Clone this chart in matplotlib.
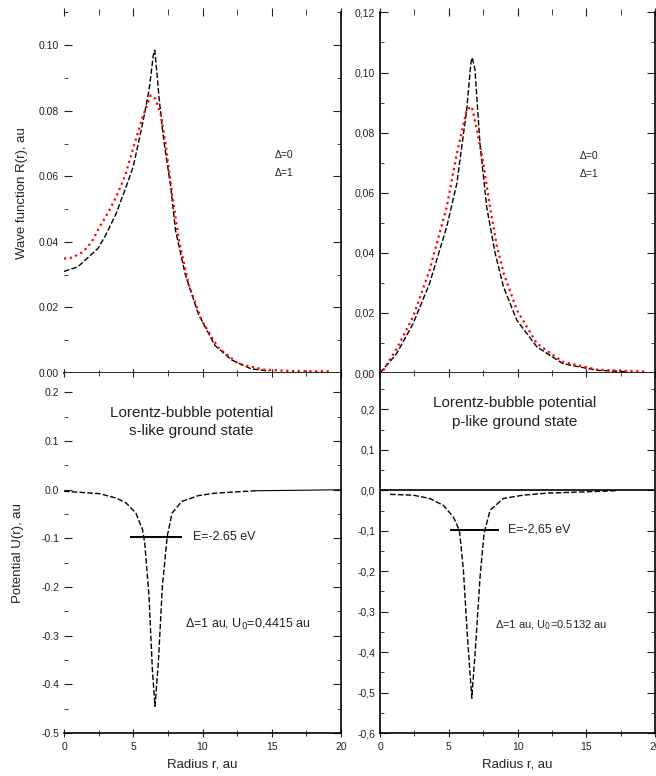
import numpy as np
import matplotlib
matplotlib.use("Agg")
import matplotlib.pyplot as plt
from matplotlib.ticker import MultipleLocator, FuncFormatter

plt.rcParams["font.family"] = ["Liberation Sans", "DejaVu Sans"]
plt.rcParams["text.color"] = "#222222"
plt.rcParams["axes.labelcolor"] = "#222222"
plt.rcParams["xtick.color"] = "#222222"
plt.rcParams["ytick.color"] = "#222222"

HARTREE_EV = 27.2114

# s-like ground state, radial wave function
r_s0 = [0.0, 1.0, 2.45, 3.0, 3.76, 4.5, 5.0, 5.67, 6.14, 6.45, 6.55, 6.7, 6.86,
        7.2, 7.7, 8.05, 8.76, 9.7, 10.9, 12.1, 13.5, 14.8]
R_s0 = [0.031, 0.0324, 0.038, 0.042, 0.0486, 0.057, 0.063, 0.076, 0.0863, 0.097,
        0.0985, 0.092, 0.084, 0.071, 0.057, 0.0435, 0.030, 0.018, 0.0084, 0.004,
        0.0013, 0.0006]
r_s1 = [0.0, 0.6, 1.38, 2.0, 2.57, 3.2, 3.76, 4.4, 4.95, 5.67, 6.26, 6.6, 6.98,
        7.33, 7.8, 8.3, 9.0, 9.95, 11.1, 12.6, 14.5, 16.5, 19.2]
R_s1 = [0.0349, 0.0352, 0.037, 0.040, 0.0446, 0.049, 0.0537, 0.060, 0.068, 0.078,
        0.0847, 0.0837, 0.079, 0.070, 0.0547, 0.0405, 0.027, 0.016, 0.0079, 0.0028,
        0.001, 0.0006, 0.0005]

# p-like ground state, radial wave function
r_p0 = [0.0, 1.2, 2.4, 3.6, 4.85, 5.58, 6.3, 6.6, 6.7, 6.9, 7.27, 7.76, 8.36,
        8.97, 9.94, 11.4, 13.3, 15.8, 18.0]
R_p0 = [0.0, 0.0064, 0.0164, 0.0298, 0.0487, 0.063, 0.0876, 0.103, 0.105, 0.101,
        0.076, 0.055, 0.040, 0.0287, 0.0176, 0.0087, 0.0031, 0.0009, 0.0004]
r_p1 = [0.24, 1.2, 2.4, 3.6, 4.85, 5.58, 6.3, 6.67, 7.0, 7.5, 8.0, 8.5, 9.0,
        9.94, 11.4, 13.3, 15.8, 19.2]
R_p1 = [0.0009, 0.008, 0.0187, 0.0342, 0.0553, 0.073, 0.0876, 0.0887, 0.082, 0.070,
        0.055, 0.042, 0.033, 0.021, 0.0098, 0.0037, 0.0011, 0.0005]

# Lorentz-bubble potentials
r_Us = [0.0, 2.57, 3.76, 4.48, 5.19, 5.67, 5.83, 6.14, 6.38, 6.57, 6.81, 7.1,
        7.45, 7.8, 8.5, 9.7, 10.9, 13.8, 20.0]
U_s = [-0.003, -0.008, -0.017, -0.027, -0.048, -0.082, -0.11, -0.22, -0.37, -0.445,
       -0.356, -0.199, -0.096, -0.048, -0.024, -0.012, -0.007, -0.002, 0.0]
r_Up = [0.73, 2.4, 3.6, 4.6, 5.33, 5.77, 6.06, 6.35, 6.67, 6.96, 7.27, 7.56, 8.0,
        8.97, 10.4, 12.1, 17.2]
U_p = [-0.01, -0.012, -0.02, -0.037, -0.066, -0.099, -0.197, -0.36, -0.514, -0.378,
       -0.214, -0.107, -0.049, -0.02, -0.012, -0.007, -0.001]

E_s_ev = -2.65
E_p_ev = -2.65
E_s_span = [4.83, 8.48]
E_p_span = [5.14, 8.6]

DASH = (0, (4, 1.6))
DOTS = (0, (1, 1.6))
TICK_FS = 7.5
LABEL_FS = 9.5
TITLE_FS = 11


def fmt(decimals, sep):
    def f(v, _):
        s = f"{v:.{decimals}f}"
        if s.startswith("-0") and float(s) == 0:
            s = s[1:]
        return s.replace(".", sep)
    return FuncFormatter(f)


def style(ax, left_spine=True):
    ax.spines["top"].set_visible(False)
    ax.spines["left"].set_visible(left_spine)
    ax.set_xlim(0, 20)
    ax.xaxis.set_major_locator(MultipleLocator(5))
    ax.xaxis.set_minor_locator(MultipleLocator(2.5))
    ax.tick_params(axis="x", which="both", direction="inout", top=True, labelsize=TICK_FS)
    ax.tick_params(axis="x", which="major", length=6)
    ax.tick_params(axis="x", which="minor", length=4)
    ax.tick_params(axis="y", which="both", direction="in", right=True, labelsize=TICK_FS)
    ax.tick_params(axis="y", which="major", length=6)
    ax.tick_params(axis="y", which="minor", length=3)
    for s in ax.spines.values():
        s.set_linewidth(1.2)


fig = plt.figure(figsize=(6.56, 7.76), dpi=100)
ax_ws = fig.add_axes([0.0976, 0.5193, 0.4222, 0.4647])
ax_wp = fig.add_axes([0.5793, 0.5193, 0.4195, 0.4647])
ax_us = fig.add_axes([0.0976, 0.0554, 0.4222, 0.4639])
ax_up = fig.add_axes([0.5793, 0.0554, 0.4195, 0.4639])

# wave functions
ax_ws.plot(r_s0, R_s0, color="black", lw=1.0, ls=DASH)
ax_ws.plot(r_s1, R_s1, color="red", lw=1.6, ls=DOTS)
ax_ws.set_ylim(0, 0.11)
ax_ws.yaxis.set_major_locator(MultipleLocator(0.02))
ax_ws.yaxis.set_minor_locator(MultipleLocator(0.01))
ax_ws.yaxis.set_major_formatter(fmt(2, "."))
ax_ws.set_ylabel("Wave function R(r), au", fontsize=LABEL_FS)
ax_ws.yaxis.set_label_coords(-0.13, 0.5)
ax_ws.text(15.2, 0.0665, "Δ=0", fontsize=7.5, va="center")
ax_ws.text(15.2, 0.061, "Δ=1", fontsize=7.5, va="center")
style(ax_ws, left_spine=False)
ax_ws.tick_params(axis="x", labelbottom=False)

ax_wp.plot(r_p0, R_p0, color="black", lw=1.0, ls=DASH)
ax_wp.plot(r_p1, R_p1, color="red", lw=1.6, ls=DOTS)
ax_wp.set_ylim(0, 0.12)
ax_wp.yaxis.set_major_locator(MultipleLocator(0.02))
ax_wp.yaxis.set_minor_locator(MultipleLocator(0.01))
ax_wp.yaxis.set_major_formatter(fmt(2, ","))
ax_wp.text(14.5, 0.0723, "Δ=0", fontsize=7.5, va="center")
ax_wp.text(14.5, 0.0663, "Δ=1", fontsize=7.5, va="center")
style(ax_wp)
ax_wp.tick_params(axis="x", labelbottom=False)

# potentials
tail = 17
ax_us.plot(r_Us[:tail + 1], U_s[:tail + 1], color="black", lw=1.0, ls=DASH)
ax_us.plot(r_Us[tail:], U_s[tail:], color="black", lw=0.8)
E_s = E_s_ev / HARTREE_EV
ax_us.plot(E_s_span, [E_s, E_s], color="black", lw=1.4)
ax_us.text(9.3, E_s, f"E={E_s_ev:.2f} eV", fontsize=9, va="center")
ax_us.text(8.7, -0.276, "Δ=1 au, U$_0$=0,4415 au", fontsize=9, va="center")
ax_us.text(9.2, 0.158, "Lorentz-bubble potential", fontsize=TITLE_FS, ha="center", va="center")
ax_us.text(9.2, 0.12, "s-like ground state", fontsize=TITLE_FS, ha="center", va="center")
ax_us.set_ylim(-0.5, 0.24)
ax_us.yaxis.set_major_locator(MultipleLocator(0.1))
ax_us.yaxis.set_minor_locator(MultipleLocator(0.05))
ax_us.yaxis.set_major_formatter(fmt(1, "."))
ax_us.set_ylabel("Potential U(r), au", fontsize=LABEL_FS)
ax_us.yaxis.set_label_coords(-0.145, 0.5)
ax_us.set_xlabel("Radius r, au", fontsize=LABEL_FS, labelpad=5)
style(ax_us, left_spine=False)

ax_up.axhline(0, color="black", lw=1.2)
ax_up.plot(r_Up, U_p, color="black", lw=1.0, ls=DASH)
E_p = E_p_ev / HARTREE_EV
ax_up.plot(E_p_span, [E_p, E_p], color="black", lw=1.4)
ax_up.text(9.3, E_p, f"E={E_p_ev:.2f} eV".replace(".", ","), fontsize=9, va="center")
ax_up.text(8.36, -0.333, "Δ=1 au, U$_0$=0.5132 au", fontsize=8, va="center")
ax_up.text(9.8, 0.217, "Lorentz-bubble potential", fontsize=TITLE_FS, ha="center", va="center")
ax_up.text(9.8, 0.168, "p-like ground state", fontsize=TITLE_FS, ha="center", va="center")
ax_up.set_ylim(-0.6, 0.29)
ax_up.yaxis.set_major_locator(MultipleLocator(0.1))
ax_up.yaxis.set_minor_locator(MultipleLocator(0.05))
ax_up.yaxis.set_major_formatter(fmt(1, ","))
ax_up.set_xlabel("Radius r, au", fontsize=LABEL_FS, labelpad=5)
style(ax_up)

fig.savefig("out.png", dpi=100)
